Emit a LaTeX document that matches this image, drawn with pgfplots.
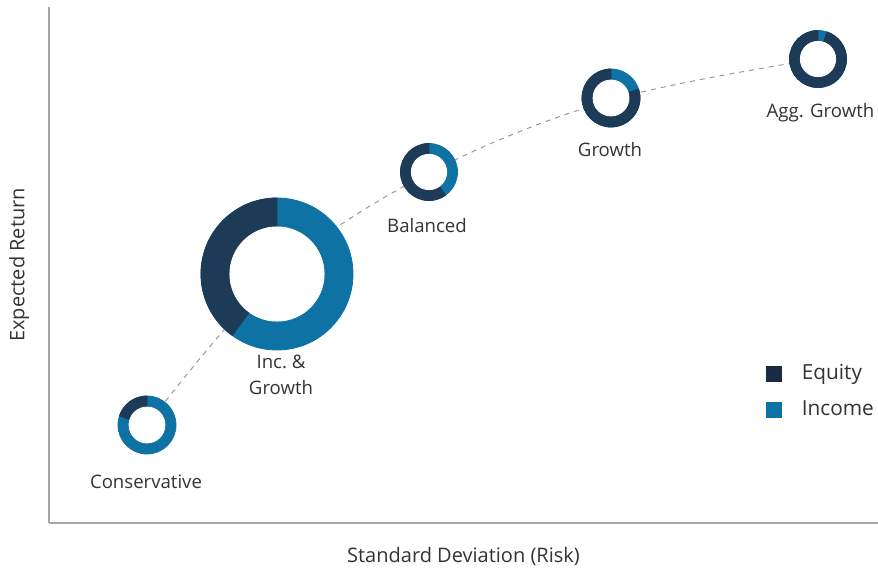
\documentclass[border=0pt]{standalone}
\usepackage{pgfplots}
\pgfplotsset{compat=1.18}
\usepackage{pgfplotstable}
\usepackage{fontspec}
\setmainfont{Open Sans}

\definecolor{equity}{HTML}{1D3B57}
\definecolor{income}{HTML}{0E72A4}
\definecolor{equitykey}{HTML}{1B2A45}
\definecolor{txt}{HTML}{333333}
\definecolor{axisgray}{HTML}{A6A6A6}

\protected\def\incgrowth{Inc.\ \&\\Growth}

% positions in reference pixels (1px = 0.5pt)
% r: outer radius (px), eq: equity share (%), ly/lx: label offset (pt)
\pgfplotstableread{
x    y    r     eq   ly    lx     label
98   98   29    20   24.5  -0.5   Conservative
228  249  76    40   40.5  2      \incgrowth
380  351  28.5  60   23    -1     Balanced
562  425  29    80   22    -0.5   Growth
769  464  28.5  95   22    1.2    {Agg. Growth}
}\donuts

\pgfdeclareplotmark{blank}{}

\begin{document}
\begin{tikzpicture}
\begin{axis}[
    scale only axis, width=414.5pt, height=258pt,
    xmin=0, xmax=829, ymin=0, ymax=516,
    axis lines*=left, axis line style={-, draw=axisgray, line width=0.8pt},
    xtick=\empty, ytick=\empty,
    clip=false,
    xlabel={Standard Deviation (Risk)}, ylabel={Expected Return},
    label style={font=\fontsize{10}{12}\selectfont, text=txt},
    xlabel style={at={(axis description cs:0.5,-0.064)}, anchor=center},
    ylabel style={at={(axis description cs:-0.036,0.5)}, anchor=center},
    legend style={at={(axis cs:717,163)}, anchor=north west, draw=none, fill=none,
        font=\fontsize{10.4}{12}\selectfont, text=txt, row sep=5pt, inner sep=0pt},
    legend cell align=left,
    legend image code/.code={\fill[#1] (0pt,-3.75pt) rectangle (7.5pt,3.75pt);
        \path[draw=none] (7.5pt,0pt) -- (15.5pt,0pt);},
]
\addplot[forget plot, smooth, tension=0.6, draw=gray!80, line width=0.5pt,
    dash pattern=on 2.5pt off 2.5pt]
    coordinates {(98,98) (228,249) (380,350) (562,423) (769,464)};

% donuts
\addplot[forget plot, scatter, only marks, mark=blank,
    visualization depends on={\thisrow{r} \as \rad},
    visualization depends on={\thisrow{eq} \as \eqp},
    scatter/@pre marker code/.code={%
        \pgfmathsetmacro\ro{0.5*\rad}%
        \pgfmathsetmacro\ri{0.31*\rad}%
        \pgfmathsetmacro\ea{90+3.6*\eqp}%
        \fill[income] (0,0) circle[radius=\ro pt];
        \fill[equity] (0,0) -- (90:\ro pt) arc[start angle=90, end angle=\ea, radius=\ro pt] -- cycle;
        \fill[white] (0,0) circle[radius=\ri pt];
    },
    scatter/@post marker code/.code={},
] table[x=x, y=y] {\donuts};

% labels under the donuts
\addplot[forget plot, only marks, mark=blank,
    point meta=explicit symbolic,
    visualization depends on={\thisrow{ly} \as \ly},
    visualization depends on={\thisrow{lx} \as \lx},
    nodes near coords,
    every node near coord/.style={anchor=north, inner sep=0pt, align=center,
        text=txt, font=\fontsize{9.3}{13}\selectfont,
        xshift=\lx, yshift=-\ly},
] table[x=x, y=y, meta=label] {\donuts};

\addlegendimage{equitykey}\addlegendentry{Equity}
\addlegendimage{income}\addlegendentry{Income}

\coordinate (bl) at (axis cs:-49,-46);
\coordinate (tr) at (axis cs:829,523);
\end{axis}
\pgfresetboundingbox
\useasboundingbox (bl) rectangle (tr);
\end{tikzpicture}
\end{document}
